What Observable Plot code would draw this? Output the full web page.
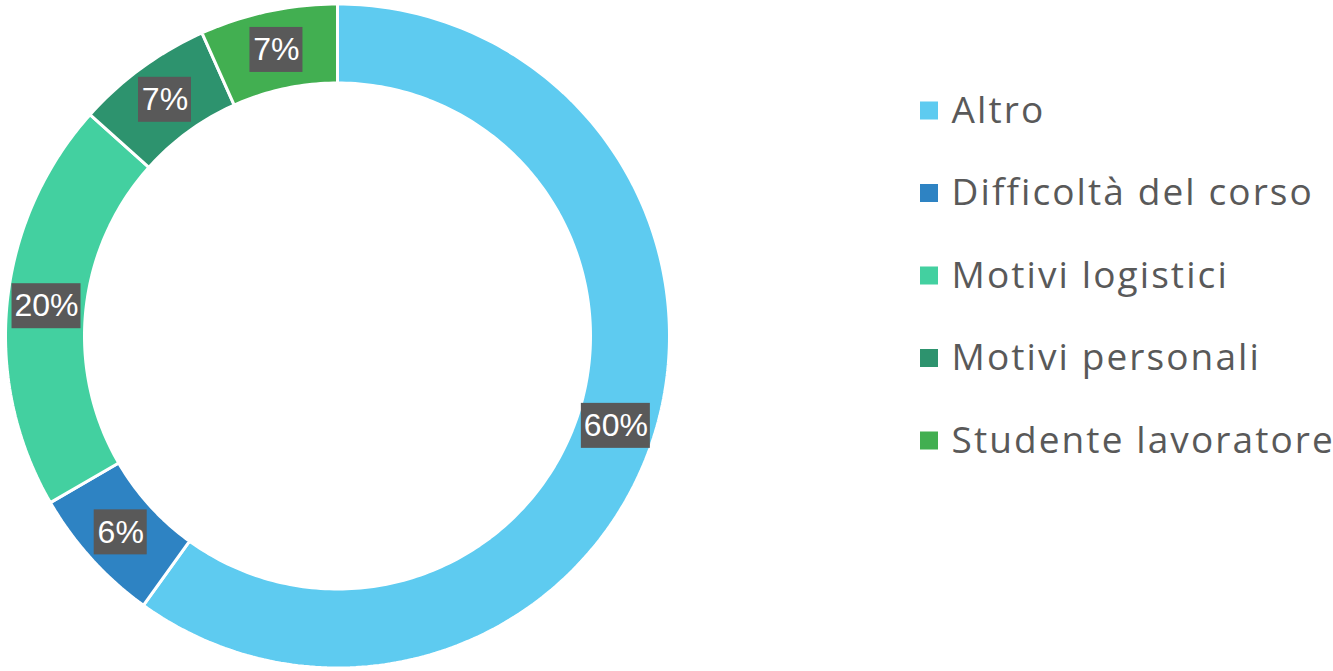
<!DOCTYPE html>
<html>
<head>
<meta charset="utf-8">
<script src="https://cdn.jsdelivr.net/npm/d3@7"></script>
<script src="https://cdn.jsdelivr.net/npm/@observablehq/plot@0.6"></script>
<style>
  html, body { margin: 0; padding: 0; background: #ffffff; }
  #chart { width: 1333px; height: 671px; }
  .lbl text { font-family: "Liberation Sans Narrow", "Liberation Sans", sans-serif; }
  .leg text { letter-spacing: 2.1px; }
</style>
</head>
<body>
<div id="chart"></div>
<script>
// ---- data ----
const categories = ["Altro", "Difficoltà del corso", "Motivi logistici", "Motivi personali", "Studente lavoratore"];
const values = [60, 6.7, 20, 6.7, 6.7];
const labels = ["60%", "6%", "20%", "7%", "7%"];
const colors = ["#5ECBF0", "#2E83C3", "#43D0A0", "#2D936E", "#42AF51"];

// ---- layout ----
const W = 1333, H = 671;
const cx = 337, cy = 335.5, R = 332, r0 = 253;
const legX = 920, legTop = 110.5, legStep = 82.5, legBox = 18;

const total = d3.sum(values);
const slices = [];
let acc = 0;
categories.forEach((c, i) => {
  const a0 = acc / total * 2 * Math.PI;
  acc += values[i];
  const a1 = acc / total * 2 * Math.PI;
  slices.push({cat: c, label: labels[i], a0, a1, i});
});

const pts = [];
for (const s of slices) {
  const n = Math.max(8, Math.ceil((s.a1 - s.a0) / (Math.PI / 180)));
  for (let k = 0; k <= n; k++) {
    const a = s.a0 + (s.a1 - s.a0) * k / n;
    pts.push({cat: s.cat, x: cx + R * Math.sin(a), y: cy - R * Math.cos(a)});
  }
  for (let k = n; k >= 0; k--) {
    const a = s.a0 + (s.a1 - s.a0) * k / n;
    pts.push({cat: s.cat, x: cx + r0 * Math.sin(a), y: cy - r0 * Math.cos(a)});
  }
}

const rm = (R + r0) / 2;
const lab = slices.map(s => {
  const a = (s.a0 + s.a1) / 2;
  const w = 21 + 16 * s.label.length;
  const x = cx + rm * Math.sin(a), y = cy - rm * Math.cos(a);
  return {label: s.label, x, y, x1: x - w / 2, x2: x + w / 2, y1: y - 22.5, y2: y + 22.5};
});

const leg = categories.map((c, i) => {
  const y = legTop + i * legStep;
  return {cat: c, y, x1: legX, x2: legX + legBox, y1: y - legBox / 2, y2: y + legBox / 2, tx: legX + legBox + 13};
});

const plot = Plot.plot({
  width: W, height: H,
  margin: 0,
  x: {domain: [0, W], range: [0, W], axis: null},
  y: {domain: [0, H], range: [0, H], axis: null},
  color: {domain: categories, range: colors},
  style: {background: "#ffffff", overflow: "visible"},
  marks: [
    Plot.line(pts, {x: "x", y: "y", z: "cat", fill: "cat", stroke: "#ffffff", strokeWidth: 3, curve: "linear-closed", strokeLinejoin: "miter"}),
    Plot.rect(lab, {x1: "x1", x2: "x2", y1: "y1", y2: "y2", fill: "#595959"}),
    Plot.text(lab, {x: "x", y: "y", text: "label", fill: "#ffffff", fontSize: 32, className: "lbl"}),
    Plot.rect(leg, {x1: "x1", x2: "x2", y1: "y1", y2: "y2", fill: "cat"}),
    Plot.text(leg, {x: "tx", y: "y", text: "cat", fill: "#595959", fontSize: 37, textAnchor: "start", fontFamily: "Open Sans", className: "leg"})
  ]
});
document.getElementById("chart").appendChild(plot);
</script>
</body>
</html>
